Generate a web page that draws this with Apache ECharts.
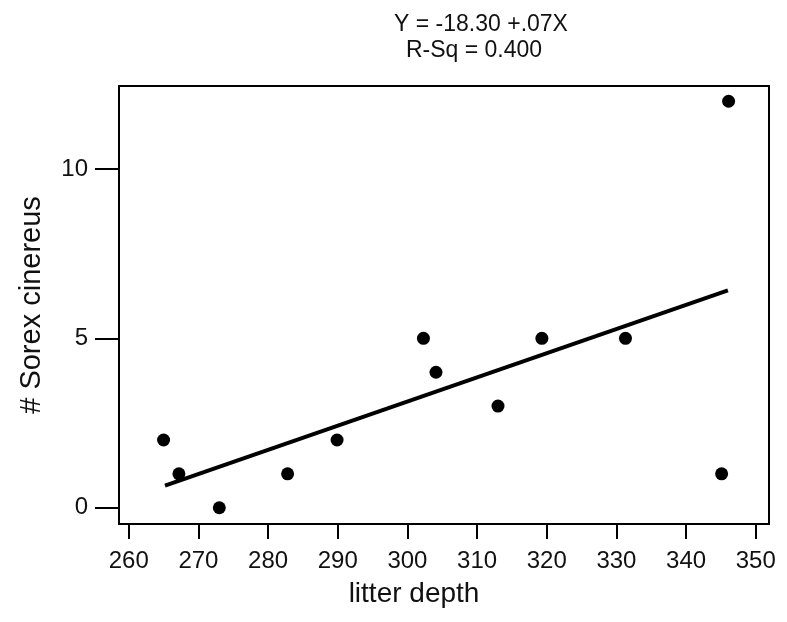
<!DOCTYPE html>
<html><head><meta charset="utf-8">
<script src="https://cdn.jsdelivr.net/npm/echarts@6/dist/echarts.min.js"></script>
<style>html,body{margin:0;padding:0;background:#fff}#c{width:787px;height:622px}</style>
</head><body><div id="c"></div>
<script>
const litterDepth = [265, 267.2, 273, 282.8, 289.9, 302.3, 304.1, 313, 319.3, 331.3, 345.1, 346.1];
const sorexCount  = [2, 1, 0, 1, 2, 5, 4, 3, 5, 5, 1, 12];
const fitX = [265.2, 346];
const fitY = [0.65, 6.42];
const xTicks = [260, 270, 280, 290, 300, 310, 320, 330, 340, 350];
const yTicks = [0, 5, 10];
const titleLines = ['Y = -18.30 +.07X', 'R-Sq = 0.400'];

const F = 'Liberation Sans, Arial, sans-serif';
const chart = echarts.init(document.getElementById('c'));
chart.setOption({
  animation: false,
  backgroundColor: '#fff',
  title: [
    {text: titleLines[0], left: 476, top: 8, textAlign: 'center', textStyle: {fontFamily: F, fontSize: 23, fontWeight: 'normal', color: '#111'}},
    {text: titleLines[1], left: 469, top: 34, textAlign: 'center', textStyle: {fontFamily: F, fontSize: 23, fontWeight: 'normal', color: '#111'}}
  ],
  grid: {left: 119, top: 86, right: 18, bottom: 98, containLabel: false, outerBoundsMode: 'none',
         show: true, borderColor: '#000', borderWidth: 2, backgroundColor: 'transparent'},
  xAxis: {
    type: 'value', min: 258.6, max: 351.9,
    name: 'litter depth', nameLocation: 'middle', nameGap: 56,
    nameTextStyle: {fontFamily: F, fontSize: 28, color: '#111', padding: [0, 60, 0, 0]},
    axisLine: {show: false, onZero: false},
    splitLine: {show: false},
    axisTick: {show: true, length: 15, customValues: xTicks, lineStyle: {color: '#000', width: 2}},
    axisLabel: {customValues: xTicks, fontFamily: F, fontSize: 24, color: '#111', margin: 25}
  },
  yAxis: {
    type: 'value', min: -0.48, max: 12.45,
    name: '# Sorex cinereus', nameLocation: 'middle', nameGap: 73,
    nameTextStyle: {fontFamily: F, fontSize: 29, color: '#111'},
    axisLine: {show: false, onZero: false},
    splitLine: {show: false},
    axisTick: {show: true, length: 24, customValues: yTicks, lineStyle: {color: '#000', width: 2}},
    axisLabel: {customValues: yTicks, fontFamily: F, fontSize: 24, color: '#111', margin: 31}
  },
  series: [
    {type: 'scatter', data: litterDepth.map((x, i) => [x, sorexCount[i]]), symbolSize: 13, itemStyle: {color: '#000', opacity: 1}},
    {type: 'line', data: fitX.map((x, i) => [x, fitY[i]]), showSymbol: false, lineStyle: {color: '#000', width: 4}}
  ]
});
</script></body></html>
